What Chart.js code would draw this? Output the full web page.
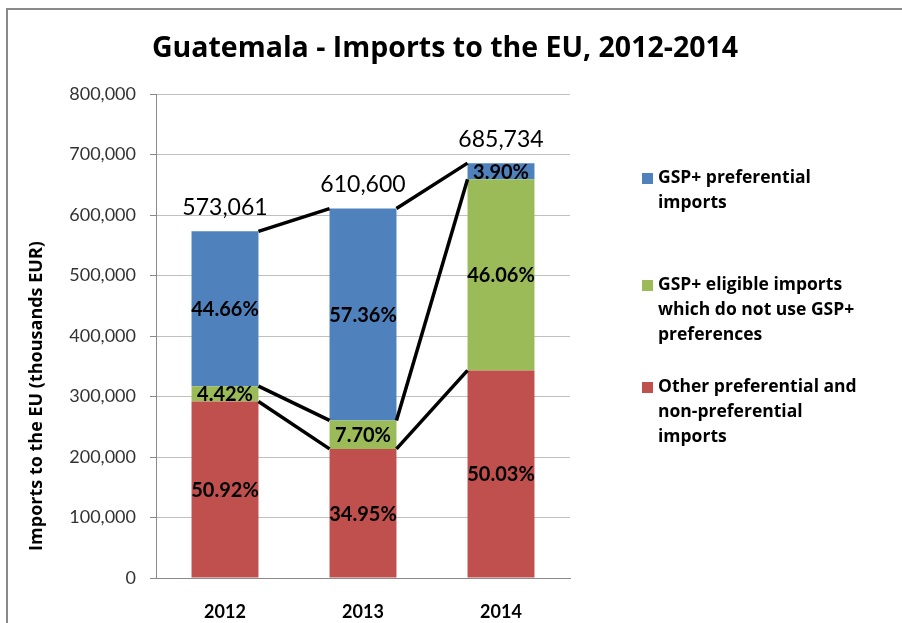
<!DOCTYPE html>
<html>
<head>
<meta charset="utf-8">
<script src="https://cdn.jsdelivr.net/npm/chart.js@4.4.1/dist/chart.umd.min.js"></script>
<style>
  html, body { margin: 0; padding: 0; background: #fff; }
  #wrap { width: 902px; height: 623px; position: relative; }
</style>
</head>
<body>
<div id="wrap"><canvas id="chart" width="902" height="623"></canvas></div>
<script>
// Data

const years = ['2012', '2013', '2014'];

const otherImports = [291803, 213405, 343073];
const eligibleImports = [25329, 47016, 315849];
const gspImports = [255929, 350179, 26812];

const otherPct = ['50.92%', '34.95%', '50.03%'];
const eligiblePct = ['4.42%', '7.70%', '46.06%'];
const gspPct = ['44.66%', '57.36%', '3.90%'];

const totals = [573061, 610600, 685734];

const yTicks = [0, 100000, 200000, 300000, 400000, 500000, 600000, 700000, 800000];

const chartTitle = 'Guatemala - Imports to the EU, 2012-2014';
const yTitle = 'Imports to the EU (thousands EUR)';

const seriesNames = [
    ['Other preferential and', 'non-preferential', 'imports'],
    ['GSP+ eligible imports', 'which do not use GSP+', 'preferences'],
    ['GSP+ preferential', 'imports']
];
const seriesColors = ['#C0504D', '#9BBB59', '#4F81BD'];

const NUMFONT = 'Lato, "Open Sans", sans-serif';
const TXTFONT = '"Open Sans", Lato, sans-serif';
const fmt = n => n.toLocaleString('en-US');

// frame, title and axis title
const framePlugin = {
    id: 'frame',
    beforeDraw: chart => {
        const ctx = chart.ctx;
        ctx.save();
        ctx.fillStyle = '#fff';
        ctx.fillRect(0, 0, chart.width, chart.height);
        ctx.strokeStyle = '#8a8a8a';
        ctx.lineWidth = 2;
        ctx.beginPath();
        ctx.moveTo(7, chart.height);
        ctx.lineTo(7, 9);
        ctx.lineTo(chart.width, 9);
        ctx.stroke();

        ctx.fillStyle = '#000';
        ctx.textAlign = 'center';
        ctx.textBaseline = 'middle';
        ctx.font = 'bold 28.5px ' + TXTFONT;
        ctx.fillText(chartTitle, 445, 49);

        ctx.translate(37, 396);
        ctx.rotate(-Math.PI / 2);
        ctx.font = 'bold 18px ' + TXTFONT;
        ctx.fillText(yTitle, 0, 0);
        ctx.restore();
    }
};

// series lines between bars + percent and total labels + legend
const labelPlugin = {
    id: 'labels',
    afterDatasetsDraw: chart => {
        const ctx = chart.ctx;
        const pcts = [otherPct, eligiblePct, gspPct];
        ctx.save();

        ctx.strokeStyle = '#000';
        ctx.lineWidth = 3.5;
        chart.data.datasets.forEach((ds, d) => {
            const bars = chart.getDatasetMeta(d).data;
            for (let i = 0; i < bars.length - 1; i++) {
                const a = bars[i], b = bars[i + 1];
                ctx.beginPath();
                ctx.moveTo(a.x + a.width / 2, a.y);
                ctx.lineTo(b.x - b.width / 2, b.y);
                ctx.stroke();
            }
        });

        ctx.fillStyle = '#000';
        ctx.textAlign = 'center';
        ctx.textBaseline = 'middle';
        ctx.font = 'bold 20px ' + NUMFONT;
        chart.data.datasets.forEach((ds, d) => {
            chart.getDatasetMeta(d).data.forEach((bar, i) => {
                ctx.fillText(pcts[d][i], bar.x, (bar.y + bar.base) / 2 + 1);
            });
        });

        ctx.font = '23px ' + NUMFONT;
        const top = chart.getDatasetMeta(chart.data.datasets.length - 1).data;
        const yScale = chart.scales.y;
        top.forEach((bar, i) => {
            ctx.fillText(fmt(totals[i]), bar.x, yScale.getPixelForValue(totals[i]) - 24);
        });
        ctx.restore();
    },
    afterDraw: chart => {
        const ctx = chart.ctx;
        const startY = [178, 285, 387];
        ctx.save();
        ctx.font = 'bold 17.5px ' + TXTFONT;
        ctx.textAlign = 'left';
        ctx.textBaseline = 'middle';
        [2, 1, 0].forEach((d, k) => {
            const y0 = startY[k];
            ctx.fillStyle = seriesColors[d];
            ctx.fillRect(642, y0 - 5, 11, 11);
            ctx.fillStyle = '#000';
            seriesNames[d].forEach((line, j) => {
                ctx.fillText(line, 658, y0 + j * 25);
            });
        });
        ctx.restore();
    }
};

const makeDataset = (label, data, color) => ({
    label,
    data,
    backgroundColor: color,
    borderWidth: 0,
    barPercentage: 0.485,
    categoryPercentage: 1
});

new Chart(document.getElementById('chart'), {
    type: 'bar',
    data: {
        labels: years,
        datasets: [
            makeDataset(seriesNames[0].join(' '), otherImports, seriesColors[0]),
            makeDataset(seriesNames[1].join(' '), eligibleImports, seriesColors[1]),
            makeDataset(seriesNames[2].join(' '), gspImports, seriesColors[2])
        ]
    },
    options: {
        responsive: false,
        animation: false,
        layout: { padding: { left: 0, right: 332, top: 94, bottom: 0 } },
        plugins: {
            legend: { display: false },
            tooltip: { enabled: false },
            title: { display: false }
        },
        scales: {
            x: {
                stacked: true,
                grid: { display: false },
                border: { display: true, color: '#8a8a8a', width: 1 },
                ticks: {
                    color: '#000',
                    padding: 15,
                    font: { family: NUMFONT, size: 18, weight: 'bold' }
                },
                afterFit: scale => { scale.height = 45; }
            },
            y: {
                stacked: true,
                min: 0,
                max: 800000,
                afterBuildTicks: scale => { scale.ticks = yTicks.map(v => ({ value: v })); },
                grid: { color: '#c0c0c0', tickColor: '#8a8a8a', tickLength: 6 },
                border: { display: true, color: '#8a8a8a', width: 1 },
                ticks: {
                    color: '#333',
                    padding: 14,
                    font: { family: NUMFONT, size: 18 },
                    callback: v => fmt(v)
                },
                afterFit: scale => { scale.width = 156; }
            }
        }
    },
    plugins: [framePlugin, labelPlugin]
});
</script>
</body>
</html>
